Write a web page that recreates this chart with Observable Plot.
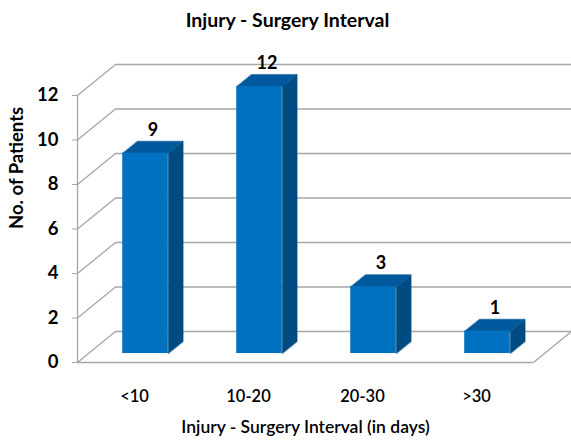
<!DOCTYPE html>
<html>
<head>
<meta charset="utf-8">
<script src="https://cdn.jsdelivr.net/npm/d3@7"></script>
<script src="https://cdn.jsdelivr.net/npm/@observablehq/plot@0.6"></script>
<style>
  html, body { margin: 0; padding: 0; background: #fff; }
  #title { width: 571px; height: 40px; line-height: 40px; text-align: center; padding-left: 4px; box-sizing: border-box;
           font-family: Lato, "Open Sans", sans-serif; font-weight: 700; font-size: 19.5px; color: #000; }
  #chart svg { display: block; }
</style>
</head>
<body>
<div id="title">Injury - Surgery Interval</div>
<div id="chart"></div>
<script>
// ---- data ----
const categories = ["<10", "10-20", "20-30", ">30"];
const patients = [9, 12, 3, 1];
const yTicks = [0, 2, 4, 6, 8, 10, 12];
const xTitle = "Injury - Surgery Interval (in days)";
const yTitle = "No. of Patients";

// ---- layout ----
const W = 571, H = 404;
const mL = 77, mR = 38, mT = 55, mB = 82;
const kx = (W - mL - mR) / categories.length;   // px per x unit
const ky = (H - mT - mB) / 12;                  // px per y unit
const DX = 38, DY = 31;                          // depth vector in px (right, up)
const ddx = DX / kx, ddy = DY / ky;              // depth vector in data units
const d0 = 0.29, d1 = 0.68;                      // bar depth range (fraction)
const hw = 0.2;                                  // bar half width (x units)

const gridColor = "#A6A6A6";
const cFront = "#0070C0", cTop = "#00599C", cSide = "#004B82";

const bars = categories.map((c, i) => ({c, i, v: patients[i],
  xl: i + 0.5 - hw, xr: i + 0.5 + hw}));

const sidePts = bars.flatMap(b => [
  {id: b.i, x: b.xr + d0 * ddx, y: d0 * ddy},
  {id: b.i, x: b.xr + d0 * ddx, y: b.v + d0 * ddy},
  {id: b.i, x: b.xr + d1 * ddx, y: b.v + d1 * ddy},
  {id: b.i, x: b.xr + d1 * ddx, y: d1 * ddy}
]);
const topPts = bars.flatMap(b => [
  {id: b.i, x: b.xl + d0 * ddx, y: b.v + d0 * ddy},
  {id: b.i, x: b.xr + d0 * ddx, y: b.v + d0 * ddy},
  {id: b.i, x: b.xr + d1 * ddx, y: b.v + d1 * ddy},
  {id: b.i, x: b.xl + d1 * ddx, y: b.v + d1 * ddy}
]);

const font = "Lato, 'Open Sans', sans-serif";

const chart = Plot.plot({
  width: W, height: H,
  marginLeft: mL, marginRight: mR, marginTop: mT, marginBottom: mB,
  style: {fontFamily: font, color: "#000", background: "#fff"},
  x: {type: "linear", domain: [0, categories.length]},
  y: {type: "linear", domain: [0, 12]},
  marks: [
    // back wall gridlines
    Plot.ruleY(yTicks, {y: t => t + ddy, x1: ddx, x2: categories.length + ddx, stroke: gridColor, strokeWidth: 1.3}),
    // side wall diagonals
    Plot.link(yTicks, {x1: 0, y1: t => t, x2: ddx, y2: t => t + ddy, stroke: gridColor, strokeWidth: 1.3}),
    // floor front edge and right edge
    Plot.ruleY([0], {x1: 0, x2: categories.length, stroke: gridColor, strokeWidth: 1.3}),
    Plot.link([0], {x1: categories.length, y1: 0, x2: categories.length + ddx, y2: ddy, stroke: gridColor, strokeWidth: 1.3}),
    // front vertical axis line
    Plot.ruleX([0], {y1: 0, y2: 12, stroke: gridColor, strokeWidth: 1.3}),
    // bars
    Plot.line(sidePts, {x: "x", y: "y", z: "id", fill: cSide, stroke: cSide, strokeWidth: 0.5, curve: "linear-closed"}),
    Plot.line(topPts, {x: "x", y: "y", z: "id", fill: cTop, stroke: cTop, strokeWidth: 0.5, curve: "linear-closed"}),
    Plot.rect(bars, {x1: b => b.xl + d0 * ddx, x2: b => b.xr + d0 * ddx, y1: d0 * ddy, y2: b => b.v + d0 * ddy, fill: cFront}),
    // value labels
    Plot.text(bars, {x: b => b.i + 0.5 + (d0 + d1) / 2 * ddx, y: b => b.v + d1 * ddy, text: b => String(b.v),
      dy: -11, fontSize: 18, fontWeight: "bold", fill: "#000"}),
    // axes
    Plot.axisY({ticks: yTicks, tickSize: 5, tickPadding: 14, fontSize: 18.5, fontWeight: "bold",
      stroke: gridColor, fill: "#000", label: null}),
    Plot.axisX({ticks: categories.map((_, i) => i + 0.5), tickFormat: d => categories[Math.floor(d)],
      tickSize: 0, tickPadding: 28, fontSize: 16.5, fontWeight: 600, fill: "#000", label: null}),
    // axis titles
    Plot.text([xTitle], {frameAnchor: "bottom", dy: 70, fontSize: 17.5, fontWeight: 600, fill: "#000"}),
    Plot.text([yTitle], {frameAnchor: "left", dx: -60, rotate: -90, fontSize: 18.5, fontWeight: "bold", fill: "#000"})
  ]
});
document.getElementById("chart").appendChild(chart);
</script>
</body>
</html>
